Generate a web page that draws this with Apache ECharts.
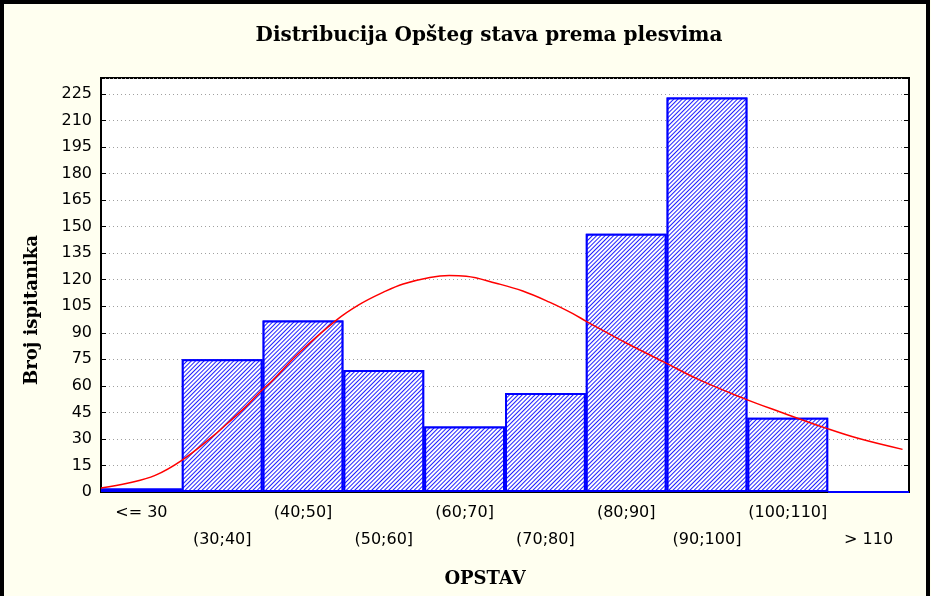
<!DOCTYPE html>
<html>
<head>
<meta charset="utf-8">
<script src="https://cdn.jsdelivr.net/npm/echarts@6/dist/echarts.min.js"></script>
<style>
  html, body { margin: 0; padding: 0; background: #fffff0; }
  #main { width: 931px; height: 596px; }
</style>
</head>
<body>
<div id="main"></div>
<script>
var categories = ['<= 30', '(30;40]', '(40;50]', '(50;60]', '(60;70]', '(70;80]', '(80;90]', '(90;100]', '(100;110]', '> 110'];
var counts = [2, 75, 97, 69, 37, 56, 146, 223, 42, 0];
var yTicks = [0, 15, 30, 45, 60, 75, 90, 105, 120, 135, 150, 165, 180, 195, 210, 225];

// expected normal curve: [opstav, broj]
var curveX = [20, 23.4, 26.7, 30, 33.7, 35.7, 37.8, 39.9, 41.1, 44.6, 49.1, 52, 54.9, 57.4, 60.7, 63.1, 65.2, 68.9, 72.2, 75.5, 78.4, 80, 81.7, 85, 89.7, 94, 99.6, 103.9, 109.9, 113.8, 119.2];
var curveY = [2.3, 5.1, 9.4, 17.9, 31, 39, 47.7, 57.5, 62.5, 79, 97, 106, 112.8, 117.6, 121.3, 122.4, 122, 118, 113.6, 107.3, 100.8, 96.6, 92.3, 84.2, 73.4, 63.5, 52.8, 45.5, 35.8, 30.2, 24.1];

var curve = curveX.map(function (x, i) { return [x, curveY[i]]; });

var serif = { fontFamily: 'DejaVu Serif', fontWeight: 'bold', fontSize: 18, color: '#000' };

var myChart = echarts.init(document.getElementById('main'));

var option = {
  backgroundColor: '#fffff0',
  animation: false,
  title: {
    text: 'Distribucija Opšteg stava prema plesvima',
    left: 484, top: 21, textAlign: 'center',
    textStyle: Object.assign({}, serif, { fontSize: 20 })
  },
  graphic: [{
    type: 'rect',
    shape: { x: 2, y: 2, width: 926, height: 600 },
    style: { fill: 'none', stroke: '#000', lineWidth: 4 },
    silent: true
  }],
  grid: {
    left: 101, right: 22, top: 78, bottom: 104,
    show: true, backgroundColor: '#ffffff', borderColor: '#000', borderWidth: 2
  },
  xAxis: [{
    type: 'category',
    data: categories,
    name: 'OPSTAV',
    nameLocation: 'middle',
    nameGap: 78,
    nameTextStyle: Object.assign({ padding: [0, 40, 0, 0] }, serif),
    axisLine: { lineStyle: { color: '#000', width: 2 } },
    axisTick: { inside: true, length: 4, lineStyle: { color: '#000' } },
    axisLabel: {
      interval: 0, margin: 7, color: '#000', fontSize: 16, lineHeight: 27,
      fontFamily: 'DejaVu Sans',
      formatter: function (v, i) { return i % 2 ? '\n' + v : v; }
    }
  }, {
    type: 'category',
    data: categories,
    position: 'top',
    axisLine: { lineStyle: { color: '#000', width: 2 } },
    axisTick: { inside: true, length: 5, lineStyle: { color: '#000' } },
    axisLabel: { show: false }
  }, {
    type: 'value',
    min: 20, max: 120,
    show: false
  }],
  yAxis: [{
    type: 'value',
    min: 0, max: 234, interval: 15,
    name: 'Broj ispitanika',
    nameLocation: 'middle',
    nameGap: 60,
    nameTextStyle: Object.assign({ padding: [0, 50, 0, 0] }, serif),
    axisLine: { show: true, lineStyle: { color: '#000', width: 2 } },
    axisTick: { show: true, inside: true, length: 5, lineStyle: { color: '#000' } },
    axisLabel: {
      color: '#000', fontSize: 16, margin: 9, fontFamily: 'DejaVu Sans',
      showMaxLabel: false,
      formatter: function (v) { return yTicks.indexOf(v) >= 0 ? v : ''; }
    },
    splitLine: { lineStyle: { type: [1, 3], color: '#a0a0a0' } }
  }, {
    type: 'value',
    min: 0, max: 234, interval: 15,
    position: 'right',
    axisLine: { show: true, lineStyle: { color: '#000', width: 2 } },
    axisTick: { show: true, inside: true, length: 5, lineStyle: { color: '#000' } },
    axisLabel: { show: false },
    splitLine: { show: false }
  }],
  series: [{
    name: 'Broj',
    type: 'bar',
    xAxisIndex: 0,
    yAxisIndex: 0,
    data: counts,
    barCategoryGap: '0%',
    itemStyle: {
      color: '#ffffff',
      borderColor: '#0000ff',
      borderWidth: 2,
      decal: {
        symbol: 'rect',
        symbolSize: 1,
        color: '#2020ff',
        backgroundColor: '#ffffff',
        dashArrayX: [1, 0],
        dashArrayY: [1, 2],
        rotation: -Math.PI / 4
      }
    }
  }, {
    name: 'Normal',
    type: 'line',
    xAxisIndex: 2,
    yAxisIndex: 0,
    data: curve,
    smooth: 0.4,
    showSymbol: false,
    lineStyle: { color: '#ff0000', width: 1.5 },
    z: 5
  }]
};
myChart.setOption(option);
</script>
</body>
</html>
